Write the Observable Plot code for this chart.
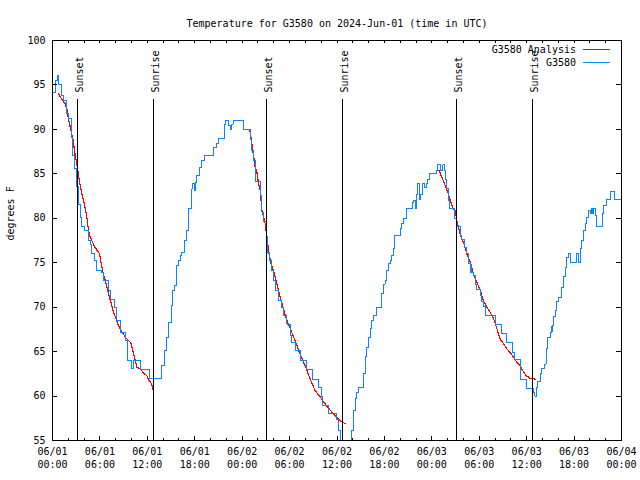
<!DOCTYPE html>
<html><head><meta charset="utf-8">
<script src="https://cdn.jsdelivr.net/npm/d3@7"></script>
<script src="https://cdn.jsdelivr.net/npm/@observablehq/plot@0.6"></script>
<style>
body{margin:0;background:#fff}
svg{font-family:"DejaVu Sans Mono",monospace;font-size:10px}
</style>
</head><body><div id="chart"></div>
<script>
const titleText = "Temperature for G3580 on 2024-Jun-01 (time in UTC)";
const yLabelText = "degrees F";
const startUTC = Date.UTC(2024, 5, 1);
const domainHours = [0, 72];
const yDomain = [55, 100];
const yTicks = [55, 60, 65, 70, 75, 80, 85, 90, 95, 100];
const legendLabels = ["G3580 Analysis", "G3580"];
const legendColors = ["#ff0000", "#0a84ff"];

// hours since 06/01 00:00 UTC
const sunsetHours = [3.16, 27.08, 51.12];
const sunriseHours = [12.78, 36.69, 60.74];

// observed G3580 [hour, degF]
const obs = [
[0,94.1],[0.34,95.5],[0.63,96.1],[0.76,95.0],[1.10,93.8],[1.39,93.2],[1.82,91.8],[2.02,91.2],[2.45,89.1],[2.53,87.1],
[2.78,85.6],[3.00,83.6],[3.29,81.6],[3.50,80.1],[3.72,79.1],[4.05,78.6],[4.56,77.5],[4.77,77.0],[4.99,76.0],[5.31,75.2],
[5.62,74.1],[6.25,73.9],[6.45,73.0],[7.09,71.9],[7.30,70.9],[7.81,70.0],[8.06,68.5],[8.57,67.2],[9.20,66.2],[9.49,64.0],
[10.05,63.1],[10.28,64.0],[11.10,63.0],[12.24,62.0],[13.75,63.4],[14.13,65.1],[14.48,66.6],[14.68,68.3],[15.02,70.2],[15.23,71.9],
[15.44,72.4],[15.74,74.7],[15.94,75.2],[16.16,75.8],[16.37,76.1],[16.66,77.5],[17.01,78.6],[17.21,81.1],[17.64,83.3],[17.74,83.9],
[17.93,83.1],[18.12,84.0],[18.27,84.8],[18.60,85.7],[18.90,86.5],[19.20,87.1],[20.37,88.0],[20.71,88.4],[21.00,89.0],[21.76,90.6],
[21.94,91.0],[22.27,90.4],[22.49,90.0],[22.68,90.6],[22.86,91.0],[24.17,90.0],[25.02,88.9],[25.23,87.6],[25.43,86.5],[25.65,84.1],
[26.28,82.6],[26.50,80.7],[26.70,79.6],[27.04,77.9],[27.20,76.2],[27.46,75.2],[27.76,74.1],[27.96,73.0],[28.27,71.9],[28.56,70.8],
[29.03,70.0],[29.23,69.1],[29.66,68.1],[30.08,66.8],[30.29,66.0],[30.71,65.1],[31.34,64.0],[32.19,63.0],[32.95,61.9],[33.66,61.0],
[34.09,59.9],[34.21,58.9],[34.92,58.0],[35.90,57.4],[36.19,56.1],[36.40,54.5],[36.65,53.5],[37.42,53.8],[37.67,54.8],[37.88,56.1],
[38.09,58.4],[38.30,59.7],[38.52,60.4],[38.72,61.0],[39.35,62.5],[39.57,64.4],[39.78,65.5],[39.98,66.6],[40.20,67.6],[40.41,68.5],
[40.62,69.1],[40.96,70.0],[41.59,71.5],[41.88,72.6],[42.10,73.0],[42.31,74.1],[42.52,74.9],[42.73,75.2],[42.95,75.8],[43.15,76.6],
[43.28,78.1],[44.00,78.8],[44.21,79.4],[44.41,80.0],[44.76,81.1],[45.55,81.8],[45.70,82.0],[45.89,81.1],[46.02,82.7],[46.19,83.9],
[46.44,82.1],[46.62,82.7],[46.87,83.9],[47.10,83.5],[47.29,83.9],[47.45,84.4],[47.70,85.0],[48.55,85.4],[48.72,86.0],[49.06,85.4],
[49.40,86.0],[49.56,85.4],[49.69,84.4],[49.90,83.4],[50.13,82.0],[50.26,81.1],[50.83,80.0],[51.17,79.1],[51.59,78.1],[51.80,77.6],
[52.09,76.7],[52.35,76.0],[52.64,74.9],[52.95,73.9],[53.27,73.6],[53.49,72.6],[53.70,72.0],[54.12,71.3],[54.33,70.6],[54.54,70.1],
[54.84,69.1],[56.02,68.0],[56.87,67.0],[57.41,66.0],[58.21,64.9],[58.43,64.1],[59.18,61.9],[59.94,60.9],[60.86,60.4],[61.03,60.0],
[61.29,61.0],[61.42,61.6],[61.71,62.5],[61.93,63.1],[62.22,63.6],[62.47,65.3],[62.64,66.6],[62.98,67.2],[63.20,67.9],[63.40,68.9],
[63.61,69.6],[63.83,70.6],[64.03,71.1],[64.46,72.2],[64.66,73.4],[64.88,74.5],[65.09,75.6],[65.29,76.0],[65.51,75.0],[66.35,76.0],
[66.56,75.0],[66.77,76.6],[66.98,77.5],[67.19,78.6],[67.40,79.4],[67.62,80.1],[67.82,80.9],[68.04,80.5],[68.16,81.1],[68.29,80.5],
[68.45,81.1],[68.67,80.3],[68.88,79.1],[69.59,80.5],[69.72,81.4],[70.06,82.1],[70.66,83.0],[71.11,82.1],[72.00,82.1]
];

// analysis, three night-time segments [hour, degF]
const analysis1 = [
[0.76,94.0],[1.32,93.2],[1.61,92.9],[1.82,92.3],[2.02,91.2],[2.33,89.9],[2.58,88.9],[2.87,87.1],[3.09,86.1],[3.29,84.8],
[3.50,83.7],[3.72,82.7],[3.92,82.0],[4.14,81.1],[4.35,80.1],[4.56,78.6],[4.77,77.9],[5.02,77.4],[5.40,76.7],[5.95,76.0],
[6.16,74.9],[6.45,73.7],[6.79,72.6],[7.09,71.5],[7.43,70.4],[7.72,69.4],[8.06,68.7],[8.35,67.9],[8.78,67.2],[9.33,66.5],
[9.92,66.0],[10.17,65.1],[10.46,64.0],[10.68,63.2],[11.10,63.1],[11.51,62.6],[11.94,62.3],[12.15,61.8],[12.45,61.5],[12.70,61.0],[12.78,60.2]
];
const analysis2 = [
[24.80,90.0],[25.02,89.7],[25.23,88.4],[25.43,87.1],[25.65,85.7],[25.86,85.2],[26.07,83.9],[26.28,83.1],[26.50,80.9],[26.91,79.4],
[27.13,77.9],[27.33,76.4],[27.64,74.9],[27.96,74.1],[28.39,72.6],[28.81,71.1],[29.23,69.8],[29.66,68.5],[30.08,67.6],[30.71,66.2],
[31.34,64.7],[31.97,63.4],[32.61,61.9],[33.24,60.6],[33.87,59.9],[34.51,59.1],[35.14,58.4],[35.77,57.8],[36.40,57.2],[37.03,56.9]
];
const analysis3 = [
[48.64,85.4],[48.93,85.4],[49.27,84.6],[49.56,84.0],[49.82,83.4],[50.11,82.7],[50.41,81.8],[50.66,81.1],[50.96,80.9],[51.17,79.7],
[51.37,79.0],[51.59,78.2],[51.80,77.7],[52.09,77.1],[52.43,76.0],[52.85,75.1],[53.27,73.7],[53.70,72.8],[54.12,71.9],[54.54,70.7],
[54.97,70.0],[55.39,69.4],[55.81,68.7],[56.23,67.6],[56.65,66.4],[57.07,65.9],[57.50,65.3],[57.92,64.9],[58.34,64.4],[58.76,63.8],
[59.18,63.4],[59.60,62.7],[59.94,62.3],[60.45,62.0],[61.08,61.9]
];

const toDate = h => new Date(startUTC + h * 3600e3);
const xDomain = domainHours.map(toDate);
const majorTicks = d3.utcHour.every(6).range(xDomain[0], new Date(+xDomain[1] + 1));
const minorTicks = d3.utcHour.every(2).range(xDomain[0], new Date(+xDomain[1] + 1)).filter(d => d.getUTCHours() % 6 !== 0);

const analysisRows = [analysis1, analysis2, analysis3].flatMap((seg, i) => seg.map(([h, t]) => ({date: toDate(h), temp: t, seg: i})));
const obsRows = obs.map(([h, t]) => ({date: toDate(h), temp: t}));
const events = [
  ...sunsetHours.map(h => ({date: toDate(h), label: "Sunset"})),
  ...sunriseHours.map(h => ({date: toDate(h), label: "Sunrise"}))
];

const W = 640, H = 480, mL = 52, mR = 19, mT = 40, mB = 40;
const iW = W - mL - mR, iH = H - mT - mB;

function legend(index, scales, values, dims) {
  const g = d3.create("svg:g");
  const xr = dims.width - dims.marginRight;
  legendLabels.forEach((lab, i) => {
    const y = dims.marginTop + 9.5 + i * 13;
    g.append("text").attr("x", xr - 45).attr("y", y).attr("dy", "0.35em")
      .attr("text-anchor", "end").attr("fill", "black").text(lab);
    g.append("line").attr("x1", xr - 38).attr("x2", xr - 11).attr("y1", y).attr("y2", y)
      .attr("stroke", legendColors[i]).attr("stroke-width", 1).attr("shape-rendering", "crispEdges");
  });
  return g.node();
}

const chart = Plot.plot({
  width: W, height: H,
  marginLeft: mL, marginRight: mR, marginTop: mT, marginBottom: mB,
  style: {fontFamily: "DejaVu Sans Mono, monospace", fontSize: "10px", background: "white"},
  x: {type: "utc", domain: xDomain},
  y: {domain: yDomain},
  marks: [
    Plot.line(analysisRows, {x: "date", y: "temp", z: "seg", stroke: legendColors[0], strokeWidth: 1.2, clip: true, shapeRendering: "crispEdges"}),
    Plot.line(obsRows, {x: "date", y: "temp", stroke: legendColors[1], strokeWidth: 1.1, curve: "step-after", clip: true, shapeRendering: "crispEdges"}),
    Plot.ruleX(events, {x: "date", stroke: "black", strokeWidth: 1, insetTop: 59, shapeRendering: "crispEdges"}),
    Plot.text(events, {x: "date", text: "label", rotate: -90, frameAnchor: "top", textAnchor: "start", dy: 52, dx: -2, fill: "black"}),
    Plot.tickY(yTicks, {y: d => d, insetRight: iW - 5, stroke: "black", shapeRendering: "crispEdges"}),
    Plot.tickY(yTicks, {y: d => d, insetLeft: iW - 5, stroke: "black", shapeRendering: "crispEdges"}),
    Plot.tickX(majorTicks, {x: d => d, insetTop: iH - 4, stroke: "black", shapeRendering: "crispEdges"}),
    Plot.tickX(majorTicks, {x: d => d, insetBottom: iH - 3, stroke: "black", shapeRendering: "crispEdges"}),
    Plot.tickX(minorTicks, {x: d => d, insetTop: iH - 2.5, stroke: "black", shapeRendering: "crispEdges"}),
    Plot.tickX(minorTicks, {x: d => d, insetBottom: iH - 3, stroke: "black", shapeRendering: "crispEdges"}),
    Plot.axisY(yTicks, {tickSize: 0, tickPadding: 7, label: null, fill: "black"}),
    Plot.axisX(majorTicks, {tickSize: 0, tickPadding: 7, label: null, tickFormat: d3.utcFormat("%m/%d"), fill: "black"}),
    Plot.axisX(majorTicks, {tickSize: 0, tickPadding: 20, label: null, tickFormat: d3.utcFormat("%H:%M"), fill: "black"}),
    Plot.frame({stroke: "black", shapeRendering: "crispEdges"}),
    Plot.text([titleText], {frameAnchor: "top", dy: -21, fill: "black"}),
    Plot.text([yLabelText], {frameAnchor: "left", rotate: -90, dx: -42, fill: "black"}),
    legend
  ]
});
document.getElementById("chart").append(chart);
</script>
</body></html>
